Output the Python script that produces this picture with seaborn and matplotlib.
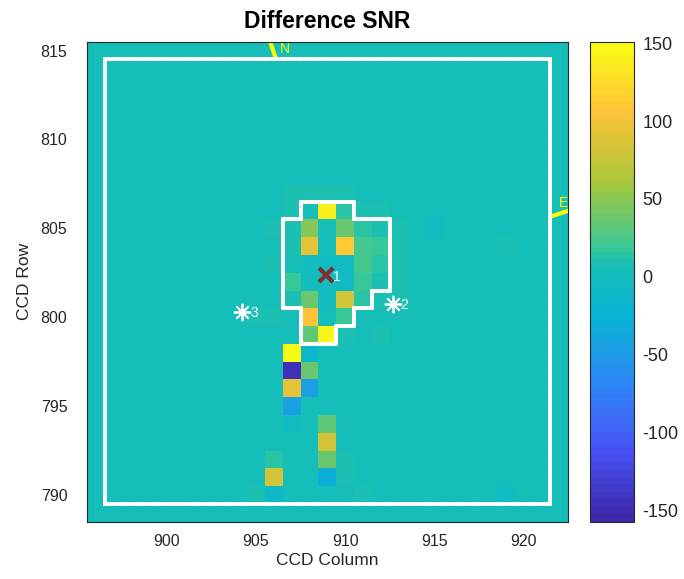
import numpy as np
import pandas as pd
import seaborn as sns
import matplotlib
matplotlib.use("Agg")
import matplotlib.pyplot as plt
from matplotlib.colors import LinearSegmentedColormap
from matplotlib.collections import LineCollection
from matplotlib import font_manager

# --- data ---
ccd_cols = np.arange(896, 923)
ccd_rows = np.arange(815, 788, -1)
background_snr = 3.0

# pixels that differ from the background (column, row, SNR)
pix_cols = [907, 908, 909, 910,
            907, 908, 909, 910, 911, 912,
            906, 907, 908, 909, 910, 911, 912, 913, 915,
            907, 908, 909, 910, 911, 912, 913, 919,
            906, 907, 908, 909, 910, 911, 912, 913,
            907, 908, 909, 910, 911, 912, 913,
            907, 908, 909, 910, 911, 912, 913,
            905, 906, 908, 909, 910, 913,
            908, 909, 910, 912,
            907, 908,
            907, 908,
            907, 908,
            907,
            907, 909,
            909,
            906, 909, 910,
            906, 909, 910,
            905, 906, 911, 919]
pix_rows = [807, 807, 807, 807,
            806, 806, 806, 806, 806, 806,
            805, 805, 805, 805, 805, 805, 805, 805, 805,
            804, 804, 804, 804, 804, 804, 804, 804,
            803, 803, 803, 803, 803, 803, 803, 803,
            802, 802, 802, 802, 802, 802, 802,
            801, 801, 801, 801, 801, 801, 801,
            800, 800, 800, 800, 800, 800,
            799, 799, 799, 799,
            798, 798,
            797, 797,
            796, 796,
            795,
            794, 794,
            793,
            792, 792, 792,
            791, 791, 791,
            790, 790, 790, 790]
pix_snr = [9, 9, 9, 9,
           8, 5, 140, 12, 8, 8,
           8, 8, 45, 3, 40, 12, 10, 8, -6,
           10, 92, 5, 110, 25, 20, 8, 8,
           8, 5, 0, -4, -4, 25, 15, 8,
           20, 0, -3, -4, 20, 10, 8,
           8, 40, 0, 80, 15, 8, 8,
           8, 8, 105, 5, 20, 6,
           35, 145, 10, 8,
           150, -15,
           -145, 38,
           90, -45,
           -45,
           -6, 32,
           82,
           14, 40, 8,
           82, -30, 8,
           8, -12, 8, -6]

snr_min, snr_max = -157.5, 151
cbar_ticks = [-150, -100, -50, 0, 50, 100, 150]
xtick_vals = [900, 905, 910, 915, 920]
ytick_vals = [815, 810, 805, 800, 795, 790]

# optimal aperture (per row: first and last column)
aperture_rows = [806, 805, 804, 803, 802, 801, 800, 799]
aperture_first_col = [908, 907, 907, 907, 907, 907, 908, 908]
aperture_last_col = [910, 912, 912, 912, 912, 911, 910, 909]
# collected pixel mask
mask_cols = (897, 921)
mask_rows = (790, 814)

target_col, target_row = [908.95], [802.36]
star_cols = [912.68, 904.24]
star_rows = [800.74, 800.31]
star_labels = ["2", "3"]

north_cols, north_rows = [906.13, 905.55], [814.5, 816.2]
east_cols, east_rows = [921.5, 922.9], [805.65, 806.12]
north_label_pos = (906.64, 815.07)
east_label_pos = (922.0, 806.42)

# parula-like colormap, 64 levels as in the reference colorbar
parula_anchors = [(0.0, (0.2422, 0.1504, 0.6603)), (1 / 7, (0.2810, 0.3228, 0.9579)),
                  (2 / 7, (0.1786, 0.5289, 0.9682)), (3 / 7, (0.0300, 0.7050, 0.8300)),
                  (0.535, (0.0900, 0.7500, 0.7150)), (4 / 7, (0.2161, 0.7843, 0.5923)),
                  (5 / 7, (0.6720, 0.7793, 0.2227)), (6 / 7, (0.9970, 0.7659, 0.2199)),
                  (1.0, (0.9769, 0.9839, 0.0805))]
parula = LinearSegmentedColormap.from_list("parula", parula_anchors, N=64)


def to_x(c):
    return np.asarray(c, dtype=float) - ccd_cols[0] + 0.5


def to_y(r):
    return ccd_rows[0] - np.asarray(r, dtype=float) + 0.5


def mask_edges(mask):
    segs = []
    n_r, n_c = mask.shape
    for i in range(n_r):
        for j in range(n_c):
            if not mask[i, j]:
                continue
            if i == 0 or not mask[i - 1, j]:
                segs.append([(j, i), (j + 1, i)])
            if i == n_r - 1 or not mask[i + 1, j]:
                segs.append([(j, i + 1), (j + 1, i + 1)])
            if j == 0 or not mask[i, j - 1]:
                segs.append([(j, i), (j, i + 1)])
            if j == n_c - 1 or not mask[i, j + 1]:
                segs.append([(j + 1, i), (j + 1, i + 1)])
    return segs


def main():
    sns.set_style("white")
    names = {f.name for f in font_manager.fontManager.ttflist}
    narrow = "Liberation Sans Narrow" if "Liberation Sans Narrow" in names else "Liberation Sans"
    plt.rcParams["font.family"] = [narrow, "DejaVu Sans"]

    grid = np.full((len(ccd_rows), len(ccd_cols)), background_snr)
    for c, r, v in zip(pix_cols, pix_rows, pix_snr):
        grid[ccd_rows[0] - r, c - ccd_cols[0]] = v
    df = pd.DataFrame(grid, index=ccd_rows, columns=ccd_cols)

    ap_mask = np.zeros(grid.shape, dtype=bool)
    for r, c0, c1 in zip(aperture_rows, aperture_first_col, aperture_last_col):
        ap_mask[ccd_rows[0] - r, c0 - ccd_cols[0]:c1 - ccd_cols[0] + 1] = True
    big_mask = np.zeros(grid.shape, dtype=bool)
    big_mask[ccd_rows[0] - mask_rows[1]:ccd_rows[0] - mask_rows[0] + 1,
             mask_cols[0] - ccd_cols[0]:mask_cols[1] - ccd_cols[0] + 1] = True

    fig = plt.figure(figsize=(6.84, 5.79), dpi=100, facecolor="white")
    ax = fig.add_axes([86.7 / 684, 1 - 521.7 / 579, 481.3 / 684, 480 / 579])
    cax = fig.add_axes([590 / 684, 1 - 521.7 / 579, 44 / 684, 480 / 579])

    sns.heatmap(df, ax=ax, cbar_ax=cax, cmap=parula, vmin=snr_min, vmax=snr_max,
                xticklabels=False, yticklabels=False)

    dark = "#262626"
    ax.set_xticks(to_x(xtick_vals))
    ax.set_xticklabels([str(v) for v in xtick_vals])
    ax.set_yticks(to_y(ytick_vals))
    ax.set_yticklabels([str(v) for v in ytick_vals], rotation=0)
    ax.tick_params(axis="x", direction="in", length=5, width=0.8, color=dark,
                   top=True, bottom=True, labelsize=11.5, labelcolor=dark, pad=9)
    ax.tick_params(axis="y", direction="in", length=5, width=0.8, color=dark,
                   left=True, right=True, labelsize=11.5, labelcolor=dark, pad=14)
    for s in ax.spines.values():
        s.set_visible(True)
        s.set_color(dark)
        s.set_linewidth(0.8)

    # compass lines (under the masks)
    ax.plot(to_x(north_cols), to_y(north_rows), color="#ffff00", lw=3, zorder=2,
            solid_capstyle="butt")
    ax.plot(to_x(east_cols), to_y(east_rows), color="#ffff00", lw=3, zorder=2,
            solid_capstyle="butt")
    ax.text(to_x(north_label_pos[0]), to_y(north_label_pos[1]), "N", color="#ffff00",
            fontsize=10, ha="center", va="center", clip_on=True, zorder=2)
    ax.text(to_x(east_label_pos[0]), to_y(east_label_pos[1]), "E", color="#ffff00",
            fontsize=10, ha="left", va="center", clip_on=True, zorder=2)

    ax.add_collection(LineCollection(mask_edges(big_mask), colors="white", linewidths=2.8,
                                     capstyle="projecting", zorder=3))
    ax.add_collection(LineCollection(mask_edges(ap_mask), colors="white", linewidths=2.9,
                                     capstyle="round", zorder=3))

    ax.plot(to_x(target_col), to_y(target_row), marker="x", ls="none", ms=10,
            mew=3, color="#802d2d", zorder=4)
    ax.annotate("1", (to_x(target_col[0]), to_y(target_row[0])), xytext=(5, -1),
                textcoords="offset points", color="white", fontsize=10,
                ha="left", va="center", zorder=4)
    ax.plot(to_x(star_cols), to_y(star_rows), marker=(8, 2, 0), ls="none", ms=12.5,
            mew=1.3, color="white", zorder=4)
    for c, r, lab in zip(star_cols, star_rows, star_labels):
        ax.annotate(lab, (to_x(c), to_y(r)), xytext=(5.5, -1), textcoords="offset points",
                    color="white", fontsize=10, ha="left", va="center", zorder=4)

    ax.set_xlim(0, len(ccd_cols))
    ax.set_ylim(len(ccd_rows), 0)

    ax.set_title("Difference SNR", fontsize=16.5, fontweight="bold", color="black", pad=10)
    ax.set_xlabel("CCD Column", fontsize=12.5, color=dark, labelpad=3)
    ax.set_ylabel("CCD Row", fontsize=12.5, color=dark, labelpad=6)

    cbar = ax.collections[0].colorbar
    cbar.set_ticks(cbar_ticks)
    cbar.set_ticklabels([str(t) for t in cbar_ticks])
    cbar.outline.set_visible(True)
    cbar.outline.set_linewidth(0.8)
    cbar.outline.set_edgecolor(dark)
    cax.tick_params(direction="in", length=5, width=0.8, color=dark, right=True,
                    left=False, labelsize=13, labelcolor=dark, pad=6)
    for lab in cax.get_yticklabels():
        lab.set_family(["Liberation Sans", "DejaVu Sans"])

    fig.savefig("out.png", dpi=100, facecolor="white")
    plt.close(fig)


if __name__ == "__main__":
    main()
